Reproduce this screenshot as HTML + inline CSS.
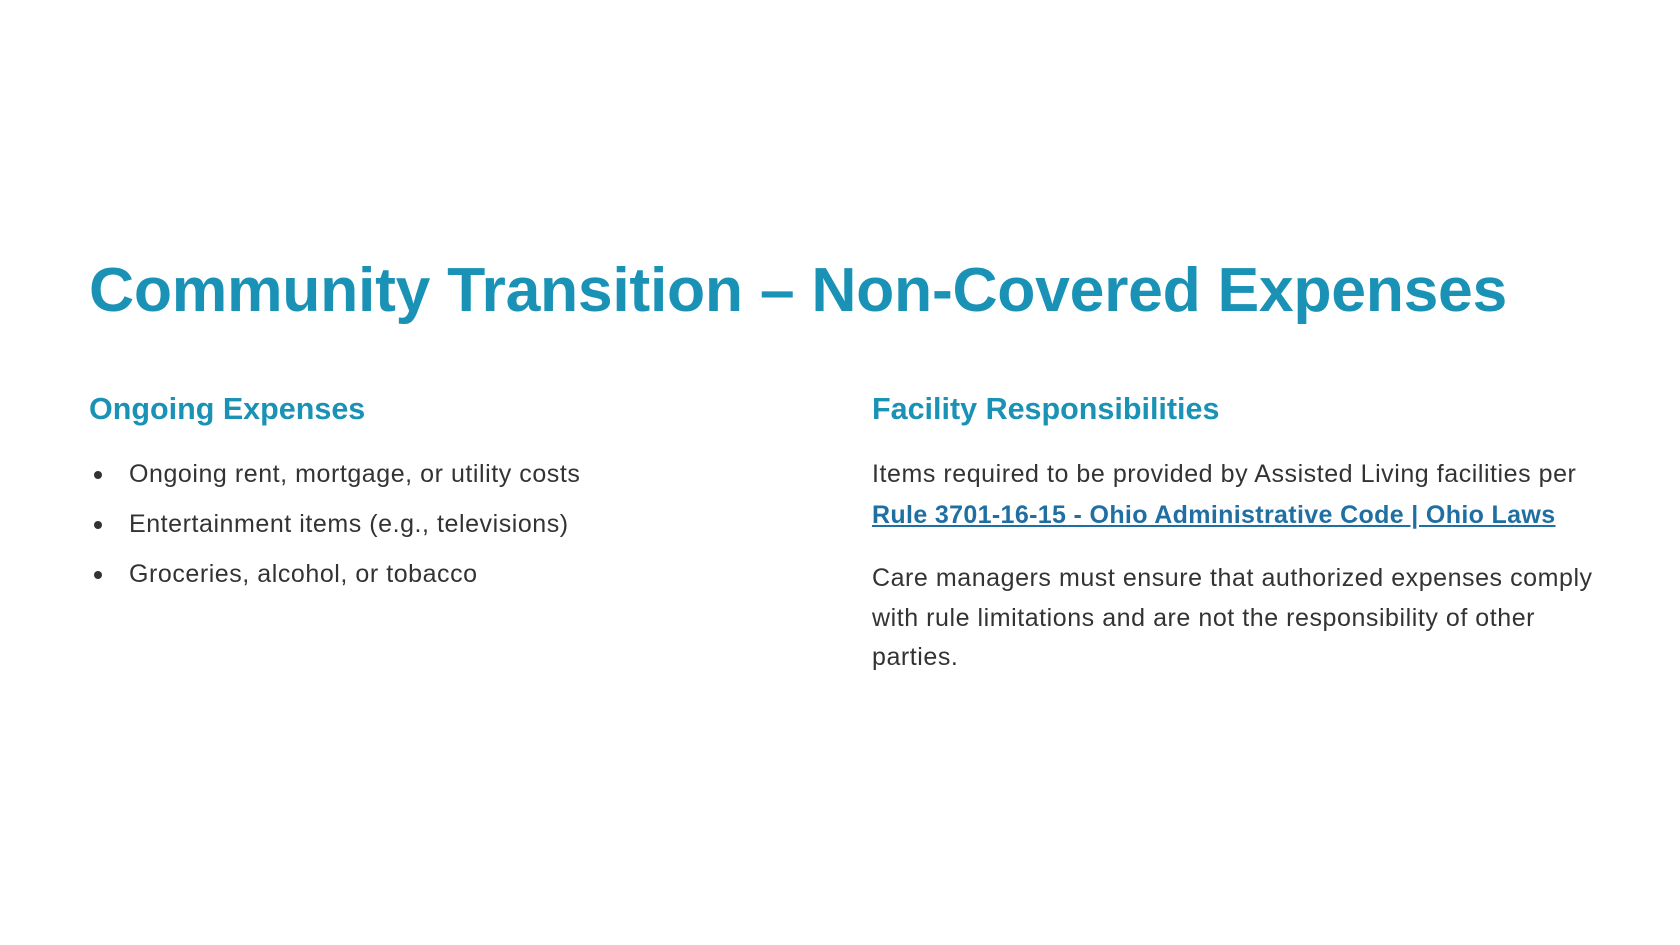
<!DOCTYPE html>
<html><head><meta charset="utf-8"><style>
body{margin:0;width:1680px;height:945px;background:#fff;position:relative;font-family:"Liberation Sans",sans-serif;overflow:hidden}
.a{position:absolute;white-space:nowrap}
h1{position:absolute;left:89px;top:250px;margin:0;font-size:62.5px;font-weight:bold;color:#1a92b5;line-height:80px;letter-spacing:-0.3px}
h2{position:absolute;margin:0;font-size:30.5px;font-weight:bold;color:#1a92b5;line-height:36px;top:391px}
.t{font-size:25px;color:#333;line-height:30px;letter-spacing:0.55px}
.dot{position:absolute;width:8px;height:8px;border-radius:50%;background:#333}
a{color:#1f6fa3;font-weight:bold;text-decoration:underline;letter-spacing:0.35px}
</style></head><body>
<h1>Community Transition – Non-Covered Expenses</h1>
<h2 style="left:89px">Ongoing Expenses</h2>
<h2 style="left:872px">Facility Responsibilities</h2>
<div class="dot" style="left:94px;top:471px"></div>
<div class="a t" style="left:129px;top:459px">Ongoing rent, mortgage, or utility costs</div>
<div class="dot" style="left:94px;top:521px"></div>
<div class="a t" style="left:129px;top:509px">Entertainment items (e.g., televisions)</div>
<div class="dot" style="left:94px;top:571px"></div>
<div class="a t" style="left:129px;top:559px">Groceries, alcohol, or tobacco</div>
<div class="a t" style="left:872px;top:459px">Items required to be provided by Assisted Living facilities per</div>
<div class="a t" style="left:872px;top:500px"><a>Rule 3701-16-15 - Ohio Administrative Code | Ohio Laws</a></div>
<div class="a t" style="left:872px;top:563px">Care managers must ensure that authorized expenses comply</div>
<div class="a t" style="left:872px;top:603px">with rule limitations and are not the responsibility of other</div>
<div class="a t" style="left:872px;top:642px">parties.</div>
</body></html>
